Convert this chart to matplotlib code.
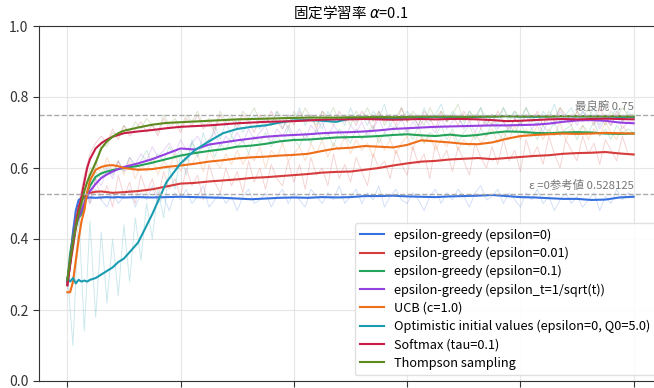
import matplotlib.pyplot as plt

plt.rcParams['font.family'] = ['Noto Sans CJK JP', 'DejaVu Sans']

# smoothed curves (moving average)
steps = [0, 5, 10, 15, 20, 25, 30, 35, 40, 50, 60, 70, 80, 90,
         100, 125, 150, 175, 200, 225, 250, 275, 300, 325, 350, 375,
         400, 425, 450, 475, 500, 525, 550, 575, 600, 625, 650, 675,
         700, 725, 750, 775, 800, 825, 850, 875, 900, 925, 950, 975, 1000]

eps0 = [0.27, 0.33, 0.42, 0.48, 0.51, 0.515, 0.517, 0.516, 0.517, 0.516, 0.517, 0.518, 0.517, 0.518,
        0.517, 0.518, 0.517, 0.518, 0.519, 0.518, 0.517, 0.516, 0.514, 0.512, 0.514, 0.516,
        0.517, 0.516, 0.518, 0.517, 0.518, 0.521, 0.521, 0.522, 0.52, 0.519, 0.518, 0.52,
        0.521, 0.522, 0.524, 0.521, 0.518, 0.517, 0.515, 0.513, 0.513, 0.51, 0.511, 0.517, 0.519]
eps001 = [0.27, 0.33, 0.40, 0.45, 0.49, 0.51, 0.52, 0.525, 0.53, 0.533, 0.534, 0.532, 0.53, 0.531,
          0.532, 0.535, 0.54, 0.548, 0.556, 0.558, 0.562, 0.565, 0.568, 0.572, 0.574, 0.577,
          0.58, 0.583, 0.587, 0.589, 0.59, 0.595, 0.6, 0.607, 0.613, 0.618, 0.62, 0.624,
          0.626, 0.628, 0.625, 0.628, 0.631, 0.634, 0.636, 0.64, 0.642, 0.643, 0.645, 0.641, 0.638]
eps01 = [0.28, 0.36, 0.41, 0.44, 0.46, 0.47, 0.50, 0.53, 0.55, 0.575, 0.585, 0.59, 0.594, 0.597,
         0.60, 0.606, 0.615, 0.625, 0.635, 0.642, 0.648, 0.653, 0.66, 0.663, 0.668, 0.675,
         0.679, 0.68, 0.683, 0.686, 0.687, 0.688, 0.69, 0.693, 0.695, 0.692, 0.69, 0.694,
         0.69, 0.693, 0.699, 0.703, 0.702, 0.699, 0.698, 0.70, 0.701, 0.70, 0.697, 0.696, 0.697]
eps_sqrt = [0.28, 0.34, 0.40, 0.44, 0.46, 0.48, 0.50, 0.52, 0.535, 0.555, 0.572, 0.582, 0.59, 0.597,
            0.603, 0.613, 0.625, 0.64, 0.655, 0.652, 0.666, 0.672, 0.678, 0.683, 0.688, 0.691,
            0.693, 0.695, 0.698, 0.70, 0.701, 0.703, 0.706, 0.71, 0.712, 0.714, 0.716, 0.717,
            0.718, 0.719, 0.72, 0.72, 0.721, 0.722, 0.725, 0.73, 0.734, 0.735, 0.733, 0.728, 0.726]
ucb = [0.25, 0.25, 0.28, 0.34, 0.40, 0.45, 0.48, 0.53, 0.565, 0.595, 0.603, 0.607, 0.608, 0.605,
       0.60, 0.595, 0.597, 0.603, 0.607, 0.612, 0.618, 0.622, 0.627, 0.63, 0.632, 0.635,
       0.637, 0.64, 0.648, 0.655, 0.657, 0.662, 0.66, 0.658, 0.665, 0.678, 0.675, 0.672,
       0.668, 0.667, 0.672, 0.682, 0.69, 0.693, 0.695, 0.697, 0.696, 0.697, 0.699, 0.698, 0.697]
optimistic = [0.29, 0.28, 0.29, 0.275, 0.285, 0.28, 0.283, 0.28, 0.285, 0.29, 0.30, 0.31, 0.32, 0.335,
              0.345, 0.39, 0.47, 0.56, 0.613, 0.65, 0.675, 0.698, 0.71, 0.716, 0.72, 0.728,
              0.734, 0.735, 0.733, 0.73, 0.74, 0.742, 0.741, 0.74, 0.742, 0.743, 0.744, 0.743,
              0.742, 0.744, 0.745, 0.746, 0.745, 0.744, 0.745, 0.746, 0.745, 0.746, 0.745, 0.744, 0.743]
softmax = [0.27, 0.33, 0.38, 0.43, 0.48, 0.52, 0.56, 0.60, 0.625, 0.655, 0.67, 0.68, 0.688, 0.693,
           0.698, 0.703, 0.707, 0.712, 0.716, 0.718, 0.72, 0.723, 0.726, 0.728, 0.73, 0.731,
           0.732, 0.734, 0.736, 0.737, 0.737, 0.738, 0.737, 0.736, 0.737, 0.738, 0.737, 0.738,
           0.738, 0.737, 0.735, 0.732, 0.733, 0.735, 0.737, 0.738, 0.737, 0.738, 0.739, 0.738, 0.737]
thompson = [0.285, 0.34, 0.39, 0.434, 0.47, 0.50, 0.535, 0.56, 0.58, 0.615, 0.655, 0.675, 0.688, 0.698,
            0.705, 0.714, 0.722, 0.727, 0.729, 0.731, 0.733, 0.735, 0.737, 0.738, 0.739, 0.74,
            0.741, 0.742, 0.742, 0.742, 0.743, 0.743, 0.744, 0.743, 0.744, 0.745, 0.745, 0.745,
            0.744, 0.745, 0.745, 0.746, 0.745, 0.746, 0.745, 0.746, 0.746, 0.745, 0.746, 0.746, 0.745]

# raw per-step rewards (faint), sampled every 10 steps
raw_steps = list(range(0, 1001, 10))
raw_eps0 = [0.26, 0.40, 0.50, 0.53, 0.50, 0.54, 0.51, 0.49, 0.53, 0.50,
            0.52, 0.54, 0.49, 0.53, 0.51, 0.55, 0.50, 0.52, 0.48, 0.53,
            0.51, 0.54, 0.50, 0.52, 0.55, 0.49, 0.51, 0.53, 0.50, 0.52,
            0.48, 0.52, 0.54, 0.50, 0.51, 0.53, 0.49, 0.52, 0.54, 0.50,
            0.53, 0.51, 0.49, 0.54, 0.52, 0.50, 0.53, 0.51, 0.55, 0.50,
            0.52, 0.54, 0.50, 0.53, 0.51, 0.55, 0.49, 0.52, 0.54, 0.51,
            0.50, 0.53, 0.51, 0.48, 0.52, 0.54, 0.50, 0.53, 0.51, 0.54,
            0.52, 0.49, 0.53, 0.55, 0.51, 0.52, 0.54, 0.50, 0.53, 0.51,
            0.49, 0.53, 0.51, 0.54, 0.50, 0.52, 0.48, 0.51, 0.53, 0.50,
            0.52, 0.49, 0.51, 0.53, 0.48, 0.52, 0.50, 0.54, 0.51, 0.53,
            0.52]
raw_eps001 = [0.27, 0.42, 0.47, 0.56, 0.50, 0.57, 0.51, 0.55, 0.49, 0.58,
              0.52, 0.56, 0.50, 0.58, 0.53, 0.57, 0.51, 0.59, 0.54, 0.57,
              0.52, 0.60, 0.55, 0.58, 0.51, 0.61, 0.56, 0.53, 0.60, 0.55,
              0.59, 0.53, 0.62, 0.56, 0.60, 0.54, 0.61, 0.57, 0.55, 0.62,
              0.56, 0.61, 0.54, 0.63, 0.58, 0.60, 0.55, 0.64, 0.57, 0.61,
              0.56, 0.63, 0.59, 0.55, 0.64, 0.60, 0.62, 0.57, 0.65, 0.61,
              0.58, 0.66, 0.61, 0.64, 0.57, 0.67, 0.62, 0.65, 0.59, 0.66,
              0.62, 0.58, 0.67, 0.63, 0.60, 0.66, 0.61, 0.68, 0.62, 0.65,
              0.59, 0.68, 0.63, 0.66, 0.61, 0.69, 0.64, 0.60, 0.68, 0.65,
              0.62, 0.69, 0.64, 0.67, 0.61, 0.68, 0.65, 0.62, 0.69, 0.64,
              0.64]
raw_eps01 = [0.28, 0.43, 0.44, 0.52, 0.53, 0.59, 0.57, 0.61, 0.58, 0.62,
             0.59, 0.63, 0.60, 0.62, 0.65, 0.61, 0.64, 0.62, 0.66, 0.63,
             0.65, 0.62, 0.67, 0.64, 0.66, 0.68, 0.63, 0.67, 0.65, 0.69,
             0.66, 0.68, 0.64, 0.69, 0.67, 0.70, 0.66, 0.69, 0.67, 0.71,
             0.68, 0.66, 0.70, 0.67, 0.71, 0.68, 0.70, 0.66, 0.71, 0.69,
             0.67, 0.71, 0.68, 0.70, 0.72, 0.67, 0.70, 0.68, 0.72, 0.69,
             0.71, 0.68, 0.72, 0.67, 0.70, 0.69, 0.72, 0.68, 0.71, 0.67,
             0.70, 0.72, 0.68, 0.71, 0.69, 0.73, 0.70, 0.68, 0.72, 0.70,
             0.73, 0.69, 0.71, 0.68, 0.72, 0.70, 0.73, 0.69, 0.71, 0.72,
             0.68, 0.72, 0.70, 0.73, 0.69, 0.71, 0.68, 0.72, 0.70, 0.71,
             0.70]
raw_eps_sqrt = [0.28, 0.42, 0.45, 0.52, 0.51, 0.57, 0.55, 0.60, 0.57, 0.62,
                0.59, 0.63, 0.61, 0.64, 0.62, 0.66, 0.63, 0.65, 0.67, 0.64,
                0.68, 0.65, 0.67, 0.69, 0.66, 0.68, 0.70, 0.66, 0.69, 0.67,
                0.70, 0.67, 0.71, 0.68, 0.70, 0.72, 0.67, 0.71, 0.69, 0.72,
                0.69, 0.71, 0.68, 0.72, 0.70, 0.73, 0.69, 0.72, 0.70, 0.68,
                0.72, 0.70, 0.73, 0.69, 0.71, 0.74, 0.70, 0.72, 0.71, 0.74,
                0.70, 0.73, 0.71, 0.74, 0.72, 0.70, 0.74, 0.71, 0.73, 0.75,
                0.71, 0.73, 0.70, 0.74, 0.72, 0.75, 0.71, 0.73, 0.70, 0.74,
                0.72, 0.75, 0.71, 0.73, 0.70, 0.74, 0.72, 0.76, 0.73, 0.75,
                0.72, 0.76, 0.73, 0.75, 0.71, 0.74, 0.72, 0.75, 0.71, 0.73,
                0.73]
raw_ucb = [0.25, 0.27, 0.38, 0.50, 0.55, 0.62, 0.58, 0.63, 0.59, 0.62,
           0.58, 0.62, 0.57, 0.61, 0.59, 0.63, 0.58, 0.62, 0.60, 0.64,
           0.59, 0.63, 0.61, 0.64, 0.59, 0.65, 0.62, 0.60, 0.64, 0.61,
           0.65, 0.61, 0.64, 0.62, 0.66, 0.60, 0.65, 0.63, 0.67, 0.62,
           0.64, 0.66, 0.62, 0.67, 0.64, 0.68, 0.63, 0.67, 0.65, 0.69,
           0.64, 0.68, 0.65, 0.67, 0.63, 0.69, 0.65, 0.68, 0.64, 0.67,
           0.69, 0.65, 0.70, 0.67, 0.69, 0.65, 0.68, 0.66, 0.70, 0.65,
           0.68, 0.66, 0.70, 0.67, 0.69, 0.71, 0.67, 0.70, 0.68, 0.72,
           0.68, 0.71, 0.69, 0.72, 0.68, 0.71, 0.69, 0.73, 0.68, 0.71,
           0.70, 0.72, 0.68, 0.71, 0.69, 0.73, 0.70, 0.68, 0.72, 0.70,
           0.70]
raw_optimistic = [0.30, 0.10, 0.48, 0.14, 0.45, 0.18, 0.42, 0.22, 0.40, 0.24,
                  0.44, 0.28, 0.46, 0.34, 0.50, 0.40, 0.54, 0.46, 0.60, 0.54,
                  0.64, 0.58, 0.68, 0.63, 0.70, 0.65, 0.72, 0.68, 0.73, 0.69,
                  0.74, 0.70, 0.73, 0.75, 0.71, 0.74, 0.72, 0.76, 0.71, 0.75,
                  0.73, 0.77, 0.72, 0.75, 0.74, 0.71, 0.76, 0.73, 0.75, 0.72,
                  0.77, 0.73, 0.75, 0.72, 0.76, 0.74, 0.78, 0.72, 0.75, 0.73,
                  0.76, 0.74, 0.72, 0.77, 0.73, 0.75, 0.78, 0.73, 0.76, 0.74,
                  0.72, 0.76, 0.74, 0.77, 0.73, 0.75, 0.72, 0.77, 0.74, 0.76,
                  0.73, 0.77, 0.74, 0.72, 0.76, 0.74, 0.78, 0.73, 0.75, 0.77,
                  0.73, 0.76, 0.74, 0.77, 0.72, 0.75, 0.74, 0.77, 0.73, 0.76,
                  0.74]
raw_softmax = [0.27, 0.36, 0.50, 0.58, 0.64, 0.67, 0.69, 0.67, 0.71, 0.68,
               0.72, 0.69, 0.71, 0.73, 0.70, 0.72, 0.69, 0.74, 0.71, 0.73,
               0.70, 0.74, 0.72, 0.75, 0.71, 0.73, 0.70, 0.75, 0.72, 0.74,
               0.71, 0.75, 0.73, 0.70, 0.75, 0.72, 0.76, 0.73, 0.71, 0.75,
               0.72, 0.76, 0.73, 0.75, 0.71, 0.76, 0.74, 0.72, 0.76, 0.73,
               0.75, 0.72, 0.76, 0.74, 0.71, 0.76, 0.73, 0.75, 0.72, 0.77,
               0.73, 0.75, 0.72, 0.76, 0.74, 0.71, 0.76, 0.73, 0.75, 0.72,
               0.76, 0.73, 0.75, 0.71, 0.74, 0.72, 0.76, 0.73, 0.71, 0.74,
               0.72, 0.75, 0.73, 0.76, 0.72, 0.75, 0.73, 0.77, 0.74, 0.72,
               0.76, 0.73, 0.75, 0.72, 0.77, 0.74, 0.72, 0.76, 0.73, 0.75,
               0.74]
raw_thompson = [0.29, 0.37, 0.49, 0.52, 0.60, 0.60, 0.67, 0.66, 0.70, 0.69,
                0.72, 0.70, 0.73, 0.71, 0.74, 0.72, 0.70, 0.75, 0.72, 0.74,
                0.71, 0.75, 0.73, 0.76, 0.72, 0.74, 0.71, 0.76, 0.73, 0.75,
                0.72, 0.76, 0.74, 0.77, 0.73, 0.75, 0.72, 0.76, 0.74, 0.71,
                0.76, 0.73, 0.77, 0.74, 0.72, 0.76, 0.74, 0.77, 0.73, 0.75,
                0.72, 0.76, 0.74, 0.77, 0.73, 0.76, 0.72, 0.75, 0.74, 0.77,
                0.73, 0.76, 0.74, 0.72, 0.77, 0.74, 0.76, 0.73, 0.75, 0.78,
                0.73, 0.76, 0.74, 0.77, 0.72, 0.75, 0.74, 0.77, 0.73, 0.76,
                0.74, 0.77, 0.73, 0.75, 0.72, 0.76, 0.74, 0.77, 0.75, 0.73,
                0.76, 0.74, 0.77, 0.73, 0.75, 0.72, 0.76, 0.74, 0.77, 0.75,
                0.75]

labels = ["epsilon-greedy (epsilon=0)", "epsilon-greedy (epsilon=0.01)",
          "epsilon-greedy (epsilon=0.1)", "epsilon-greedy (epsilon_t=1/sqrt(t))",
          "UCB (c=1.0)", "Optimistic initial values (epsilon=0, Q0=5.0)",
          "Softmax (tau=0.1)", "Thompson sampling"]
colors = ['#3771e0', '#d63c3c', '#24a35a', '#9540e0',
          '#ee6e1a', '#1a9cb0', '#c81e45', '#5c8a1f']
smooth = [eps0, eps001, eps01, eps_sqrt, ucb, optimistic, softmax, thompson]
raw = [raw_eps0, raw_eps001, raw_eps01, raw_eps_sqrt, raw_ucb,
       raw_optimistic, raw_softmax, raw_thompson]

best_arm = 0.75
eps0_ref = 0.528125

fig = plt.figure(figsize=(6.54, 3.88), dpi=100)
ax = fig.add_axes([39 / 654, 7 / 388, 623 / 654, 355 / 388])

for r, c in zip(raw, colors):
    ax.plot(raw_steps, r, color=c, alpha=0.22, linewidth=0.7)
for s, c, lab in zip(smooth, colors, labels):
    ax.plot(steps, s, color=c, linewidth=1.5, label=lab)

ax.axhline(best_arm, color='#aaaaaa', linestyle='--', linewidth=1)
ax.axhline(eps0_ref, color='#aaaaaa', linestyle='--', linewidth=1)
ax.text(1000, best_arm + 0.008, "最良腕 0.75", ha='right', va='bottom',
        fontsize=8.2, color='#777777')
ax.text(1000, eps0_ref + 0.008, "ε =0参考値 0.528125", ha='right', va='bottom',
        fontsize=8.2, color='#777777')

ax.set_xlim(-50, 1050)
ax.set_ylim(0, 1.0)
ax.set_xticks(range(0, 1001, 200))
ax.set_yticks([0, 0.2, 0.4, 0.6, 0.8, 1.0])
ax.tick_params(labelsize=10, length=4, colors='#333333')
ax.tick_params(axis='x', labelbottom=False)
ax.grid(True, color='#e6e6e6', linewidth=0.8)
for side in ['left', 'top', 'bottom']:
    ax.spines[side].set_color('#333333')
ax.set_title("固定学習率 $\\alpha$=0.1", fontsize=10.5)
ax.legend(loc='lower right', fontsize=9.2, labelspacing=0.4, handlelength=1.9,
          framealpha=0.9, edgecolor='#dddddd')

fig.savefig("out.png", dpi=100)
